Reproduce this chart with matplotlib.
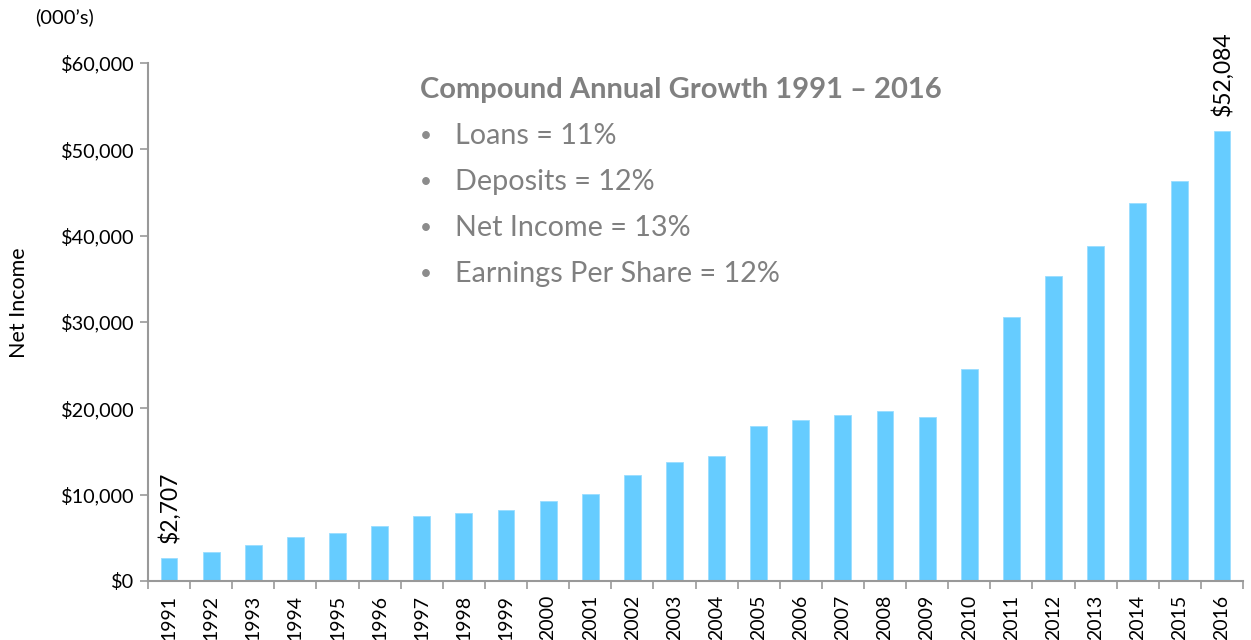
import matplotlib
matplotlib.use("Agg")
import matplotlib.pyplot as plt
import numpy as np
from matplotlib.ticker import FuncFormatter, FixedLocator

years = [str(y) for y in range(1991, 2017)]
net_income = [2707, 3330, 4180, 5080, 5600, 6360, 7490, 7840, 8260, 9270,
              10040, 12280, 13780, 14480, 17920, 18690, 19190, 19650, 18950,
              24530, 30620, 35350, 38800, 43810, 46360, 52084]
yticks = [0, 10000, 20000, 30000, 40000, 50000, 60000]
title_text = "Compound Annual Growth 1991 \u2013 2016"
bullets = ["Loans = 11%", "Deposits = 12%", "Net Income = 13%",
           "Earnings Per Share = 12%"]
label_first = "$2,707"
label_last = "$52,084"

plt.rcParams['font.family'] = ['Lato', 'DejaVu Sans']

fig = plt.figure(figsize=(12.51, 6.4), dpi=100)
ax = fig.add_axes([148/1251, 1-581/640, (1243-148)/1251, (581-63)/640])

x = np.arange(len(years))
ax.bar(x, net_income, width=0.4, color='#66CCFF', edgecolor='#99DDFF', linewidth=0.6, zorder=2)

ax.set_xlim(-0.5, len(years)-0.5)
ax.set_ylim(0, 60000)
ax.set_yticks(yticks)
ax.yaxis.set_major_formatter(FuncFormatter(lambda v, p: f"${int(v):,}"))
ax.set_xticks(x)
ax.set_xticklabels(years, rotation=90, fontsize=14)
ax.xaxis.set_minor_locator(FixedLocator(np.arange(-0.5, len(years), 1.0)))
ax.tick_params(axis='x', which='major', length=0, pad=10)
ax.tick_params(axis='x', which='minor', length=6, color='#999999', width=1.2)
ax.tick_params(axis='y', length=6, color='#999999', width=1.2, labelsize=14.3, pad=4)

for s in ['top', 'right']:
    ax.spines[s].set_visible(False)
for s in ['left', 'bottom']:
    ax.spines[s].set_color('#999999')
    ax.spines[s].set_linewidth(1.5)

fig.text(19/1251, 1-303/640, "Net Income", rotation=90, fontsize=15.5, ha='center', va='center')

ax.text(x[0], net_income[0] + 1750, label_first, rotation=90, ha='center', va='bottom', fontsize=16.5)
ax.text(x[-1], net_income[-1] + 1750, label_last, rotation=90, ha='center', va='bottom', fontsize=16.5)

fig.text(35/1251, 1-17/640, "(000\u2019s)", fontsize=14.5, va='center', ha='left')

gray = '#808080'
fig.text(420/1251, 1-90/640, title_text, fontsize=21, fontweight='bold', color=gray, va='center', ha='left')
for i, b in enumerate(bullets):
    yy = 1 - (136 + 46*i)/640
    fig.text(420/1251, yy, "\u2022", fontsize=15, color='#8c8c8c', va='center', ha='left')
    fig.text(455/1251, yy, b, fontsize=20.7, color=gray, va='center', ha='left')

fig.savefig("out.png", dpi=100)
